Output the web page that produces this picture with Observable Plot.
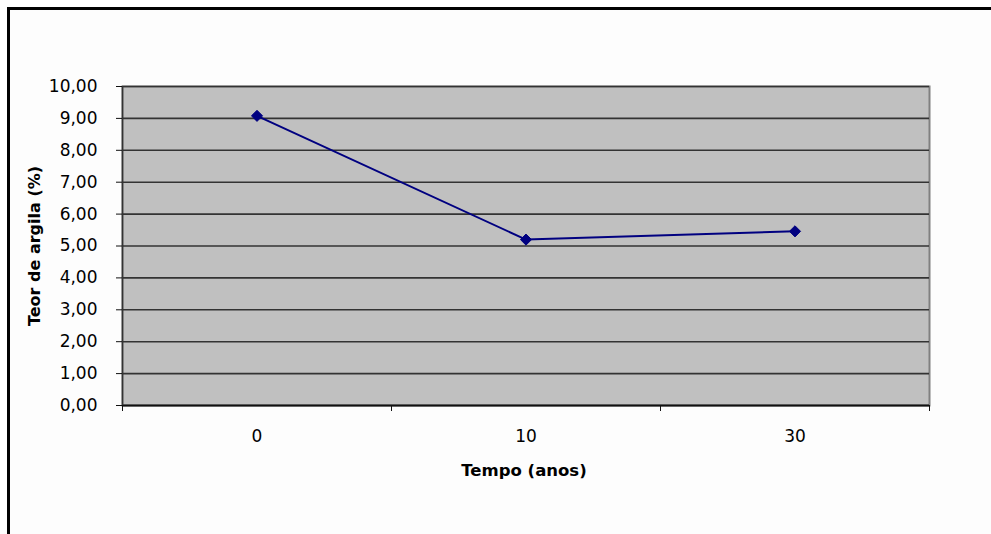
<!DOCTYPE html>
<html>
<head>
<meta charset="utf-8">
<script src="https://cdn.jsdelivr.net/npm/d3@7"></script>
<script src="https://cdn.jsdelivr.net/npm/@observablehq/plot@0.6"></script>
<style>
  html, body { margin: 0; padding: 0; background: #fdfdfd; }
  #frame {
    position: absolute; left: 7px; top: 7px; width: 984px; height: 527px;
    border-top: 3px solid #000; border-left: 3px solid #000; overflow: hidden;
  }
  svg { font-family: "DejaVu Sans", sans-serif; }
</style>
</head>
<body>
<div id="frame"></div>
<script>
const categories = ["0", "10", "30"];
const values = [9.08, 5.20, 5.46];
const yTicks = [0, 1, 2, 3, 4, 5, 6, 7, 8, 9, 10];
const xLabel = "Tempo (anos)";
const yLabel = "Teor de argila (%)";

const data = categories.map((c, i) => ({i, c, v: values[i]}));
const bounds = d3.range(-0.5, categories.length, 1);
const fmt = d => d.toFixed(2).replace(".", ",");

const chart = Plot.plot({
  width: 981,
  height: 524,
  marginLeft: 112,
  marginRight: 62,
  marginTop: 76,
  marginBottom: 129,
  style: {fontSize: "17px", fontFamily: "DejaVu Sans, sans-serif", color: "#000", background: "transparent"},
  x: {type: "linear", domain: [-0.5, categories.length - 0.5]},
  y: {domain: [0, 10]},
  marks: [
    Plot.frame({fill: "#c0c0c0", stroke: "#808080", strokeWidth: 2}),
    Plot.ruleY(yTicks.filter(t => t > 0), {stroke: "#333", strokeWidth: 1.6}),
    Plot.ruleY([0], {stroke: "#111", strokeWidth: 2}),
    Plot.ruleX([-0.5], {stroke: "#333", strokeWidth: 1.5}),
    Plot.axisY({ticks: yTicks, tickFormat: fmt, tickSize: 6, tickPadding: 19, label: null, stroke: "#111"}),
    Plot.axisX({ticks: bounds, tickFormat: () => "", tickSize: 6, label: null, stroke: "#111"}),
    Plot.axisX({ticks: categories.map((c, i) => i), tickFormat: i => categories[i], tickSize: 0, tickPadding: 24, label: null}),
    Plot.line(data, {x: "i", y: "v", stroke: "#000080", strokeWidth: 2}),
    Plot.dot(data, {x: "i", y: "v", symbol: "diamond2", r: 5, fill: "#000080", stroke: "#000080", strokeWidth: 1}),
    Plot.text([xLabel], {frameAnchor: "bottom", dy: 65, dx: -2, lineAnchor: "middle", fontWeight: "bold", fontSize: 16.5}),
    Plot.text([yLabel], {frameAnchor: "left", dx: -88, rotate: -90, textAnchor: "middle", lineAnchor: "middle", fontWeight: "bold", fontSize: 16})
  ]
});
document.getElementById("frame").appendChild(chart);
</script>
</body>
</html>
